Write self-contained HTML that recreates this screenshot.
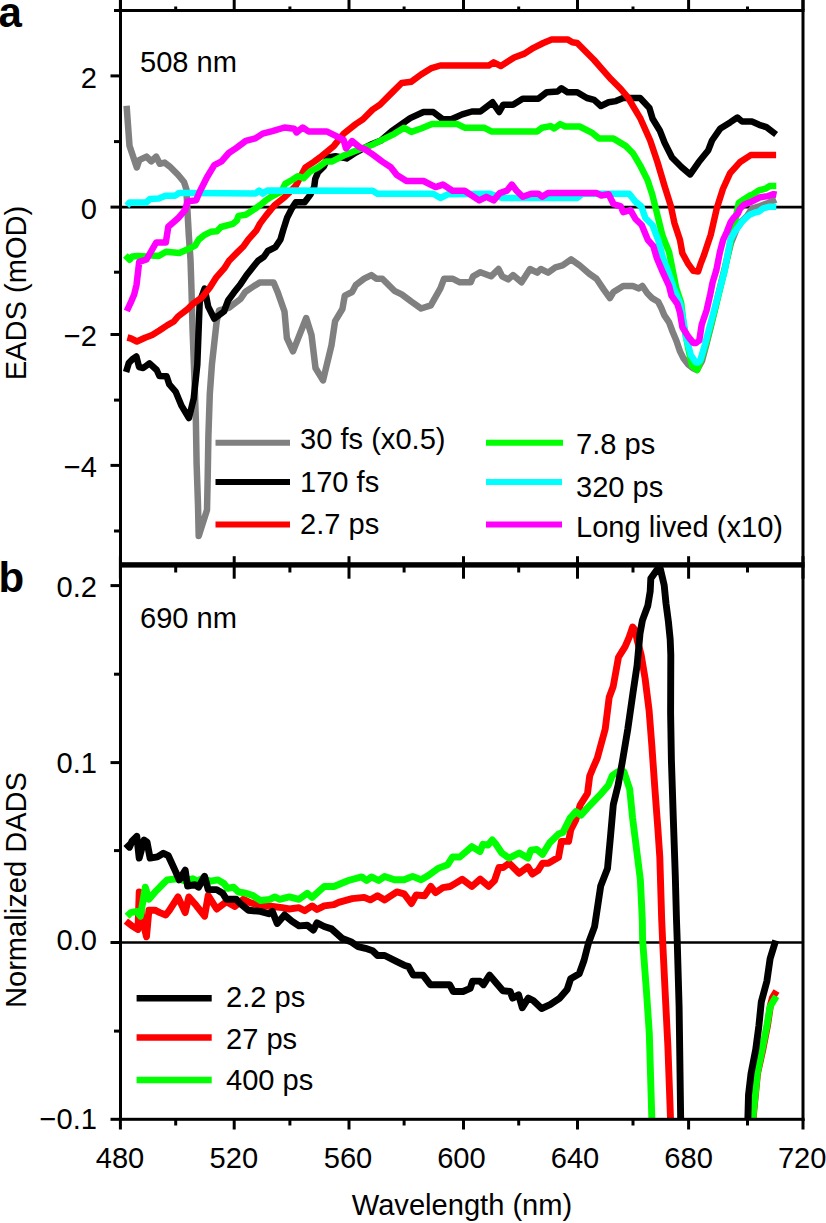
<!DOCTYPE html>
<html><head><meta charset="utf-8"><style>
html,body{margin:0;padding:0;background:#fff;}
svg{display:block;}
text{font-family:"Liberation Sans",sans-serif;fill:#000;}
</style></head><body>
<svg width="826" height="1223" viewBox="0 0 826 1223">
<rect x="0" y="0" width="826" height="1223" fill="#fff"/>

<line x1="120.5" y1="207.1" x2="802.5" y2="207.1" stroke="#000" stroke-width="2.6"/>
<line x1="120.5" y1="942.5" x2="802.5" y2="942.5" stroke="#000" stroke-width="2.7"/>
<g fill="none" stroke-width="6.5" stroke-linejoin="round" stroke-linecap="butt">
<polyline stroke="#808080" points="126.6,105.7 129.5,145.7 136.8,167.5 139.2,160.2 146.5,156.6 151.3,161.4 156.2,156.6 159.8,163.8 164.6,162.6 169.5,166.3 178.0,174.7 184.0,182.0 186.4,189.3 187.2,206.2 188.8,235.3 190.5,259.5 191.5,290.0 192.5,328.0 194.5,380.0 195.9,421.7 196.6,463.4 198.0,505.0 198.7,536.0 207.0,510.0 207.7,477.4 208.4,435.6 209.8,393.9 211.9,364.7 216.7,321.2 219.1,310.3 228.8,307.8 240.5,299.0 245.5,291.7 254.2,285.9 260.0,282.4 273.6,282.4 277.5,291.7 284.5,311.5 286.9,338.1 293.0,351.4 306.2,318.0 311.5,335.0 315.5,368.0 323.0,380.4 331.5,345.3 335.1,321.1 342.4,309.0 344.8,295.6 352.1,292.0 355.7,285.2 364.2,278.7 371.4,275.1 376.3,278.7 382.3,278.7 394.4,290.8 401.7,294.4 411.4,301.7 421.1,308.5 430.8,305.3 440.4,288.4 444.1,278.7 452.5,278.7 459.8,282.3 470.7,282.3 473.1,276.3 480.4,272.2 491.0,276.3 498.5,269.0 502.1,276.3 508.2,279.4 513.0,275.1 521.5,282.3 530.0,269.0 537.2,272.6 540.8,269.0 548.1,272.6 555.4,267.3 562.6,265.4 571.1,259.3 579.6,265.4 589.3,273.8 596.5,278.7 603.8,289.6 609.9,298.1 613.5,292.0 623.2,286.0 632.9,286.0 638.9,288.4 642.4,286.0 647.3,293.3 652.1,298.1 658.2,301.7 661.2,307.8 664.2,315.1 669.1,322.3 672.7,332.0 676.3,340.5 680.0,351.4 683.6,358.6 688.4,364.7 693.3,368.3 697.0,370.0 702.0,361.0 707.0,342.0 712.0,322.0 717.0,300.0 722.0,279.0 727.0,259.0 731.0,243.0 737.0,228.0 742.0,221.0 747.0,216.0 752.0,208.5 760.0,206.0 768.0,203.0 776.0,199.5"/>
<polyline stroke="#000000" points="126.1,372.0 128.8,363.0 132.4,359.2 136.4,356.5 139.1,367.0 143.2,368.0 149.5,363.3 156.7,370.0 159.4,376.0 166.6,376.3 169.3,384.4 175.6,391.6 181.6,405.9 188.9,418.0 193.7,398.6 197.3,364.7 199.7,301.8 204.6,288.5 208.2,306.6 214.3,318.7 224.0,311.5 228.1,300.5 233.9,292.6 240.7,283.9 246.5,275.2 254.2,265.5 258.1,260.7 263.9,256.8 267.8,251.0 275.5,247.1 280.5,239.4 283.2,230.0 287.1,217.8 292.0,208.1 295.8,202.3 304.6,202.3 310.4,194.6 314.2,186.8 315.2,179.1 318.1,172.3 323.9,166.5 327.8,157.5 335.5,156.3 346.6,158.4 355.7,152.5 364.0,148.2 371.0,144.5 381.0,140.5 391.4,131.5 401.7,124.1 410.2,118.1 423.5,112.0 433.2,112.0 442.9,119.3 451.3,119.3 462.2,114.4 471.9,111.5 480.4,111.5 492.5,102.3 499.2,112.0 503.3,104.7 513.0,104.7 522.7,98.7 538.4,98.7 546.9,92.2 557.8,91.4 561.4,88.3 567.5,92.2 577.2,92.2 586.9,98.0 594.1,99.9 600.9,106.0 608.6,102.3 615.9,101.1 623.2,98.0 640.1,98.0 649.4,108.0 652.6,118.7 659.9,130.8 664.7,143.0 672.0,157.5 681.7,167.2 690.2,174.4 698.6,162.3 708.3,150.2 712.0,140.5 720.4,128.4 730.1,122.4 737.4,117.5 742.2,121.6 751.9,121.6 759.2,124.8 766.4,127.2 776.1,134.5"/>
<polyline stroke="#ff0000" points="127.4,337.5 131.0,338.5 136.9,341.5 145.0,337.7 152.2,335.0 159.4,330.5 167.5,325.1 173.8,321.5 178.0,316.5 187.6,309.1 192.5,304.2 201.9,297.5 209.7,287.8 216.5,277.1 224.2,268.4 229.1,260.7 236.8,252.9 243.6,246.2 248.4,239.4 256.2,230.7 260.0,223.6 265.8,215.9 274.5,205.2 284.2,197.5 289.1,192.6 295.8,185.8 300.7,176.2 305.5,167.4 314.2,161.6 322.0,155.8 327.8,151.0 333.9,145.9 343.6,133.8 355.7,124.1 363.0,119.3 372.6,109.6 379.9,104.7 392.0,92.6 401.7,83.0 411.4,81.7 421.1,74.5 430.8,68.4 440.4,65.5 488.9,65.5 493.6,62.4 500.9,66.0 514.2,57.5 523.9,53.9 533.6,47.8 543.3,43.0 551.7,39.4 567.5,39.4 572.3,42.3 577.2,43.0 584.4,50.3 594.1,60.0 601.4,68.4 611.1,79.3 620.8,89.0 628.0,97.5 633.3,106.6 640.5,118.7 650.2,140.5 657.5,162.3 664.7,186.5 670.8,205.9 674.4,222.9 680.0,240.0 682.4,253.3 688.4,264.2 693.3,270.9 698.1,271.5 700.5,264.2 704.2,254.5 709.0,240.0 710.7,235.0 716.8,208.3 722.9,189.0 730.1,173.2 739.8,162.3 750.7,155.1 776.1,155.1"/>
<polyline stroke="#00ff00" points="125.4,255.4 129.7,259.8 132.1,256.6 138.2,256.0 145.4,256.6 151.5,255.4 158.7,256.0 166.0,251.7 179.3,253.0 187.8,249.3 195.1,245.7 198.7,239.6 204.7,234.8 210.8,231.8 216.9,231.2 221.0,227.0 232.9,223.9 236.8,220.5 238.5,215.9 245.8,214.7 255.4,208.6 260.0,205.2 265.8,200.4 271.6,196.5 281.3,191.6 285.2,183.9 292.0,180.0 297.8,176.2 303.6,178.1 310.4,171.3 318.1,167.4 325.9,161.6 331.7,161.6 343.6,155.6 355.7,150.8 372.6,144.7 384.7,138.6 394.4,133.8 404.1,127.7 411.4,131.9 421.1,128.5 432.0,124.1 457.4,124.1 464.6,127.7 484.0,127.7 491.3,131.4 537.2,131.4 542.1,127.7 550.5,126.1 554.2,128.5 560.2,124.1 565.1,126.5 579.6,126.5 591.7,132.6 599.0,138.6 613.5,138.6 625.6,145.9 632.9,153.2 640.1,165.3 647.4,179.8 652.2,194.3 657.1,213.7 662.3,235.0 664.2,240.0 669.1,252.1 672.7,270.3 676.3,288.4 681.2,303.0 683.6,324.7 688.4,349.0 692.1,365.9 697.2,370.0 700.5,361.0 705.8,344.0 710.8,325.5 715.5,307.5 720.0,289.0 724.5,271.0 727.8,255.0 730.5,242.0 733.0,232.0 734.8,225.0 736.5,214.0 738.7,203.0 744.5,199.0 750.3,195.3 752.3,194.7 758.8,190.4 765.4,188.7 769.7,186.0 776.3,186.0"/>
<polyline stroke="#00ffff" points="126.8,205.7 129.7,202.5 146.1,202.5 150.0,199.0 158.7,198.4 165.5,195.7 175.2,195.7 179.1,193.0 187.6,193.0 255.4,193.6 259.1,190.5 262.7,193.6 267.5,190.5 372.6,190.7 377.5,193.8 433.2,193.8 440.4,198.0 447.7,194.3 490.0,193.8 502.1,198.0 577.2,198.0 582.0,193.8 629.2,193.8 635.3,201.6 641.3,206.4 645.4,218.0 652.6,225.3 658.2,240.0 663.0,258.2 667.8,270.3 673.9,288.4 680.0,303.0 682.4,315.1 686.0,336.9 690.8,355.0 695.7,362.3 698.0,362.5 700.5,359.9 705.4,342.9 710.2,324.7 715.1,306.6 719.9,288.4 724.7,270.3 727.5,255.0 730.3,240.0 734.2,232.7 738.1,227.1 741.5,222.3 746.8,217.0 750.0,214.5 754.5,212.7 758.8,211.6 763.2,208.3 769.7,206.7 776.3,206.7"/>
<polyline stroke="#ff00ff" points="126.8,311.0 131.5,300.8 134.2,294.5 136.5,285.0 139.2,261.9 146.5,259.5 156.2,242.5 165.8,242.5 168.3,226.8 178.0,218.3 185.2,209.9 187.6,201.4 196.1,200.2 199.7,191.7 207.0,177.2 214.3,165.1 221.5,161.4 228.8,153.0 236.1,148.1 245.8,140.8 255.4,138.4 262.7,133.6 272.4,131.2 284.5,127.5 294.2,128.7 296.6,132.4 302.7,127.5 308.5,131.4 326.6,131.4 336.3,136.2 343.6,139.9 346.0,148.3 352.1,141.1 359.3,147.1 365.4,149.5 372.6,154.4 382.3,161.6 390.8,167.2 396.9,175.0 406.5,181.0 423.5,181.0 435.6,187.1 442.9,184.6 452.5,190.7 464.6,190.7 479.2,200.4 486.4,196.8 493.7,200.4 499.7,193.1 506.9,190.7 511.8,184.6 516.6,190.7 522.7,196.8 531.2,193.8 538.4,193.8 542.1,196.8 548.1,193.1 596.5,193.1 601.4,195.5 608.6,194.3 613.5,204.0 620.8,206.4 623.2,212.1 630.4,210.1 635.5,219.0 641.7,225.0 647.8,239.8 653.3,246.1 656.9,258.2 663.0,272.7 669.1,286.0 671.5,295.7 677.5,304.2 680.0,312.6 682.4,327.2 688.4,336.9 693.3,342.9 696.0,343.0 699.3,340.5 701.7,324.7 706.6,310.2 710.2,294.5 712.6,282.4 716.3,270.3 719.9,252.1 723.1,240.0 727.0,231.5 730.6,222.3 733.7,217.7 737.8,213.6 740.0,208.7 743.9,204.8 750.0,202.3 760.5,197.2 767.8,196.1 773.6,194.2 776.5,194.8"/>
</g>
<clipPath id="cb"><rect x="121" y="567" width="680" height="552"/></clipPath>
<g fill="none" stroke-width="6.9" stroke-linejoin="round" stroke-linecap="butt" clip-path="url(#cb)">
<polyline stroke="#ff0000" points="125.9,921.1 132.0,925.9 138.0,929.5 139.2,892.0 141.6,916.2 146.5,936.8 148.9,910.2 155.0,910.2 159.8,912.6 165.8,915.0 169.5,910.2 178.0,896.9 185.2,912.6 188.8,896.9 196.1,905.3 204.6,916.2 208.2,895.6 216.7,909.0 226.4,901.7 234.9,906.5 243.3,899.3 250.6,902.9 260.3,905.3 272.4,906.5 282.1,907.7 289.3,909.0 299.0,907.7 304.8,910.7 312.1,905.9 317.0,909.5 324.2,905.9 333.9,904.7 338.7,902.3 352.1,898.6 364.2,897.4 370.2,899.9 377.5,895.7 384.7,899.9 396.9,891.9 404.1,893.8 411.4,903.5 416.2,895.0 424.7,895.7 430.8,886.5 435.6,892.6 442.9,887.7 450.1,886.5 455.0,883.6 462.2,879.3 471.9,886.5 480.2,879.2 488.7,886.4 494.5,880.6 498.9,867.5 503.2,867.5 509.1,863.2 519.2,873.3 527.9,866.8 532.3,874.0 538.1,870.4 542.5,863.2 548.3,863.2 558.5,857.3 561.4,841.4 568.6,841.4 570.8,829.7 575.9,819.6 580.2,805.0 587.5,793.4 589.7,776.0 593.3,767.3 597.2,758.4 605.2,729.1 609.2,697.2 613.2,686.5 618.5,657.2 625.1,646.6 629.1,637.3 632.7,627.0 635.1,630.1 637.1,639.9 641.1,654.6 645.1,678.5 649.1,710.5 651.8,745.1 654.9,789.1 657.8,827.8 659.8,856.9 661.7,920.0 662.6,940.0 665.2,993.2 667.9,1046.5 670.6,1121.0"/>
<polyline stroke="#ff0000" points="752.8,1121.0 757.5,1073.6 762.8,1049.7 767.5,1025.7 770.5,1005.0 772.5,997.5 776.5,991.0"/>
<polyline stroke="#00ff00" points="127.1,916.2 130.7,912.6 136.8,911.4 140.4,916.2 145.3,887.2 148.9,899.3 156.2,890.8 163.4,883.5 167.1,879.9 178.0,878.7 185.2,881.1 192.5,878.7 197.3,881.1 202.2,878.7 210.6,881.1 217.9,879.9 224.0,883.5 227.6,888.4 233.6,887.2 238.5,892.0 245.8,893.2 253.0,895.6 260.3,900.5 270.0,899.3 274.8,896.9 279.6,899.3 289.3,896.9 299.0,899.3 307.3,893.3 312.1,897.4 324.2,886.5 333.9,886.5 348.4,880.5 361.7,876.9 366.6,880.5 371.4,876.9 378.7,880.5 384.7,876.4 394.4,879.8 404.1,879.8 412.6,876.4 421.1,879.8 428.3,875.6 438.0,868.4 447.7,864.7 452.5,857.0 459.8,857.0 471.9,846.6 480.0,851.5 482.9,844.3 488.0,845.0 492.3,839.9 496.0,844.3 501.8,853.0 509.1,858.1 519.2,853.0 527.9,858.1 530.9,850.1 536.7,849.4 542.5,854.4 549.7,842.8 558.5,834.1 562.8,832.6 570.1,818.1 575.9,811.6 581.0,815.2 587.5,807.9 600.0,794.9 608.4,785.2 612.3,775.5 618.1,771.6 623.9,771.6 629.7,789.1 632.6,818.1 637.5,856.9 640.4,880.1 642.3,920.0 642.6,940.0 646.6,993.2 649.3,1033.2 651.9,1121.0"/>
<polyline stroke="#00ff00" points="752.6,1121.0 757.3,1073.6 762.1,1049.7 766.9,1025.7 770.1,1006.6 776.3,996.2"/>
<polyline stroke="#000000" points="125.9,843.6 129.5,847.2 132.0,841.2 136.8,836.3 139.2,858.1 144.1,840.0 147.0,842.0 150.1,858.1 157.4,856.9 163.4,853.3 168.3,855.7 175.5,871.4 179.2,879.9 185.2,870.2 187.6,886.0 194.9,884.7 198.5,887.2 204.6,876.3 208.2,889.6 216.7,889.6 222.7,893.2 226.4,899.3 236.1,899.3 240.9,904.1 248.2,910.2 260.3,911.4 268.8,913.8 272.4,911.4 277.2,923.5 284.5,915.0 291.8,921.1 299.0,925.9 307.3,925.3 313.3,930.1 317.0,922.9 324.2,926.5 331.5,928.9 342.4,938.6 350.8,941.7 358.1,946.6 365.4,948.3 372.6,950.7 377.5,955.5 384.7,955.5 396.9,961.6 404.1,965.2 408.5,966.6 413.3,975.1 423.0,975.1 430.3,984.7 449.6,984.7 453.3,991.5 463.0,991.5 470.2,988.4 472.6,981.1 479.9,981.1 483.5,984.7 489.6,975.1 495.6,982.3 502.9,990.8 510.2,991.5 512.6,998.1 518.6,994.9 522.3,1007.7 528.3,998.1 533.2,1000.5 541.6,1008.5 550.1,1004.6 559.8,998.1 567.1,989.6 570.7,978.7 579.2,973.8 584.0,960.5 588.5,943.0 594.6,926.6 598.6,900.0 600.7,885.9 607.5,868.5 610.4,837.5 613.3,804.6 618.1,785.2 622.3,762.0 627.8,729.1 633.1,691.9 637.1,665.2 640.0,633.7 642.4,620.4 647.8,605.8 650.2,591.3 650.8,578.6 659.3,566.5 660.5,569.5 664.2,585.3 666.0,603.4 668.4,621.6 670.2,639.7 670.8,655.0 670.6,713.0 671.4,760.0 673.3,818.1 675.3,876.2 676.5,920.0 677.2,940.0 679.1,1006.5 680.7,1121.0"/>
<polyline stroke="#000000" points="747.8,1121.0 748.5,1095.0 751.0,1073.6 755.7,1049.7 758.9,1025.7 761.3,1001.8 766.9,981.1 770.1,958.7 775.7,940.4"/>
</g>
<g fill="#000">
<rect x="119" y="0" width="3" height="1121"/>
<rect x="801.5" y="0" width="3" height="1121"/>
<rect x="114" y="9" width="690.5" height="3"/>
<rect x="119" y="562.2" width="685.5" height="5.4"/>
<rect x="119" y="1117.8" width="685.5" height="3"/>
</g>
<g stroke="#000" stroke-width="3" fill="none">
<line x1="120.4" y1="0.0" x2="120.4" y2="10.0"/>
<line x1="120.4" y1="556.2" x2="120.4" y2="578.7"/>
<line x1="120.4" y1="1119.0" x2="120.4" y2="1129.5"/>
<line x1="175.7" y1="6.5" x2="175.7" y2="10.0"/>
<line x1="175.7" y1="565.0" x2="175.7" y2="572.5"/>
<line x1="175.7" y1="1119.0" x2="175.7" y2="1125.5"/>
<line x1="234.2" y1="0.0" x2="234.2" y2="10.0"/>
<line x1="234.2" y1="556.2" x2="234.2" y2="578.7"/>
<line x1="234.2" y1="1119.0" x2="234.2" y2="1129.5"/>
<line x1="289.9" y1="6.5" x2="289.9" y2="10.0"/>
<line x1="289.9" y1="565.0" x2="289.9" y2="572.5"/>
<line x1="289.9" y1="1119.0" x2="289.9" y2="1125.5"/>
<line x1="349.0" y1="0.0" x2="349.0" y2="10.0"/>
<line x1="349.0" y1="556.2" x2="349.0" y2="578.7"/>
<line x1="349.0" y1="1119.0" x2="349.0" y2="1129.5"/>
<line x1="404.1" y1="6.5" x2="404.1" y2="10.0"/>
<line x1="404.1" y1="565.0" x2="404.1" y2="572.5"/>
<line x1="404.1" y1="1119.0" x2="404.1" y2="1125.5"/>
<line x1="463.5" y1="0.0" x2="463.5" y2="10.0"/>
<line x1="463.5" y1="556.2" x2="463.5" y2="578.7"/>
<line x1="463.5" y1="1119.0" x2="463.5" y2="1129.5"/>
<line x1="518.7" y1="6.5" x2="518.7" y2="10.0"/>
<line x1="518.7" y1="565.0" x2="518.7" y2="572.5"/>
<line x1="518.7" y1="1119.0" x2="518.7" y2="1125.5"/>
<line x1="577.5" y1="0.0" x2="577.5" y2="10.0"/>
<line x1="577.5" y1="556.2" x2="577.5" y2="578.7"/>
<line x1="577.5" y1="1119.0" x2="577.5" y2="1129.5"/>
<line x1="633.0" y1="6.5" x2="633.0" y2="10.0"/>
<line x1="633.0" y1="565.0" x2="633.0" y2="572.5"/>
<line x1="633.0" y1="1119.0" x2="633.0" y2="1125.5"/>
<line x1="688.6" y1="0.0" x2="688.6" y2="10.0"/>
<line x1="688.6" y1="556.2" x2="688.6" y2="578.7"/>
<line x1="688.6" y1="1119.0" x2="688.6" y2="1129.5"/>
<line x1="747.5" y1="6.5" x2="747.5" y2="10.0"/>
<line x1="747.5" y1="565.0" x2="747.5" y2="572.5"/>
<line x1="747.5" y1="1119.0" x2="747.5" y2="1125.5"/>
<line x1="803.0" y1="0.0" x2="803.0" y2="10.0"/>
<line x1="803.0" y1="556.2" x2="803.0" y2="578.7"/>
<line x1="803.0" y1="1119.0" x2="803.0" y2="1129.5"/>
<line x1="110.5" y1="75.9" x2="120.0" y2="75.9"/>
<line x1="114.0" y1="141.6" x2="120.0" y2="141.6"/>
<line x1="110.5" y1="207.1" x2="120.0" y2="207.1"/>
<line x1="114.0" y1="272.2" x2="120.0" y2="272.2"/>
<line x1="110.5" y1="334.5" x2="120.0" y2="334.5"/>
<line x1="114.0" y1="400.1" x2="120.0" y2="400.1"/>
<line x1="110.5" y1="465.4" x2="120.0" y2="465.4"/>
<line x1="114.0" y1="531.0" x2="120.0" y2="531.0"/>
<line x1="110.5" y1="585.6" x2="120.0" y2="585.6"/>
<line x1="114.0" y1="674.2" x2="120.0" y2="674.2"/>
<line x1="110.5" y1="762.6" x2="120.0" y2="762.6"/>
<line x1="114.0" y1="850.6" x2="120.0" y2="850.6"/>
<line x1="110.5" y1="942.5" x2="120.0" y2="942.5"/>
<line x1="114.0" y1="1031.1" x2="120.0" y2="1031.1"/>
<line x1="110.5" y1="1119.3" x2="120.0" y2="1119.3"/>
</g>
<text x="97" y="87.7" font-size="29.1" text-anchor="end" >2</text>
<text x="97" y="219.3" font-size="29.1" text-anchor="end" >0</text>
<text x="97" y="346.4" font-size="29.1" text-anchor="end" >−2</text>
<text x="97" y="476.7" font-size="29.1" text-anchor="end" >−4</text>
<text x="97" y="596.7" font-size="29.1" text-anchor="end" >0.2</text>
<text x="97" y="773.4" font-size="29.1" text-anchor="end" >0.1</text>
<text x="97" y="949.9" font-size="29.1" text-anchor="end" >0.0</text>
<text x="97" y="1129.4" font-size="29.1" text-anchor="end" >−0.1</text>
<text x="120.0" y="1168" font-size="29.1" text-anchor="middle" >480</text>
<text x="233.8" y="1168" font-size="29.1" text-anchor="middle" >520</text>
<text x="348.0" y="1168" font-size="29.1" text-anchor="middle" >560</text>
<text x="461.4" y="1168" font-size="29.1" text-anchor="middle" >600</text>
<text x="575.0" y="1168" font-size="29.1" text-anchor="middle" >640</text>
<text x="688.6" y="1168" font-size="29.1" text-anchor="middle" >680</text>
<text x="802.2" y="1168" font-size="29.1" text-anchor="middle" >720</text>
<text x="462" y="1215" font-size="29.1" text-anchor="middle" >Wavelength (nm)</text>
<text x="140" y="71.5" font-size="29.1" text-anchor="start" >508 nm</text>
<text x="140" y="628" font-size="29.1" text-anchor="start" >690 nm</text>
<text x="0" y="0" font-size="29.1" text-anchor="middle" transform="translate(26.4,293) rotate(-90)">EADS (mOD)</text>
<text x="0" y="0" font-size="29.1" text-anchor="middle" transform="translate(26.4,890) rotate(-90)">Normalized DADS</text>
<text x="-1.4" y="26.6" font-size="42" font-weight="bold">a</text>
<text x="-1.5" y="592" font-size="42" font-weight="bold">b</text>
<line x1="215.5" y1="442.7" x2="290" y2="442.7" stroke="#808080" stroke-width="6"/>
<text x="300" y="449" font-size="29.1" text-anchor="start" >30 fs (x0.5)</text>
<line x1="215.5" y1="482" x2="290" y2="482" stroke="#000000" stroke-width="6"/>
<text x="300" y="491.5" font-size="29.1" text-anchor="start" >170 fs</text>
<line x1="215.5" y1="524.4" x2="290" y2="524.4" stroke="#ff0000" stroke-width="6"/>
<text x="300" y="534" font-size="29.1" text-anchor="start" >2.7 ps</text>
<line x1="486" y1="442.7" x2="563" y2="442.7" stroke="#00ff00" stroke-width="6"/>
<text x="576" y="454.4" font-size="29.1" text-anchor="start" >7.8 ps</text>
<line x1="486" y1="482" x2="562" y2="482" stroke="#00ffff" stroke-width="6"/>
<text x="576" y="496.5" font-size="29.1" text-anchor="start" >320 ps</text>
<line x1="486" y1="524.4" x2="562" y2="524.4" stroke="#ff00ff" stroke-width="6"/>
<text x="576" y="537.2" font-size="29.1" text-anchor="start" >Long lived (x10)</text>
<line x1="136.6" y1="998.2" x2="211.7" y2="998.2" stroke="#000000" stroke-width="6.5"/>
<text x="226" y="1007.3" font-size="29.1" text-anchor="start" >2.2 ps</text>
<line x1="136.6" y1="1037.6" x2="211.7" y2="1037.6" stroke="#ff0000" stroke-width="6.5"/>
<text x="226" y="1048.7" font-size="29.1" text-anchor="start" >27 ps</text>
<line x1="136.6" y1="1080" x2="211.7" y2="1080" stroke="#00ff00" stroke-width="6.5"/>
<text x="226" y="1090.4" font-size="29.1" text-anchor="start" >400 ps</text>
</svg>
</body></html>
